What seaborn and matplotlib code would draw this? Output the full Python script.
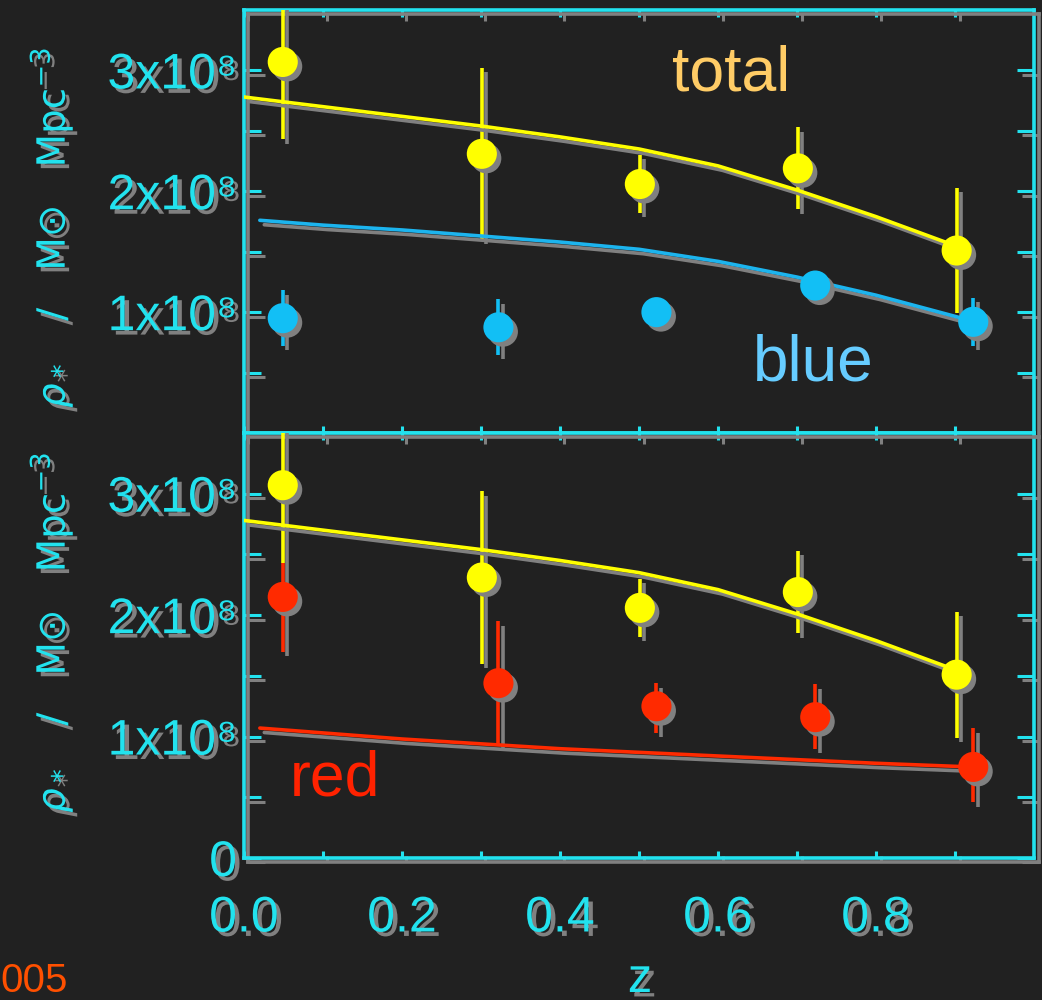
import matplotlib
matplotlib.use("Agg")
import matplotlib.pyplot as plt
import matplotlib.patheffects as pe
from matplotlib.ticker import FixedLocator, FuncFormatter
from matplotlib import font_manager
import pandas as pd
import seaborn as sns

# ---------------- data (stellar mass density, Msun Mpc^-3) ----------------
total_z = [0.049, 0.301, 0.501, 0.701, 0.902]
total_rho = [3.07e8, 2.31e8, 2.06e8, 2.19e8, 1.51e8]
total_err = [0.64e8, 0.71e8, 0.24e8, 0.34e8, 0.52e8]

blue_z = [0.049, 0.322, 0.522, 0.723, 0.923]
blue_rho = [0.95e8, 0.875e8, 1.00e8, 1.22e8, 0.92e8]
blue_err = [0.23e8, 0.23e8, 0.0, 0.0, 0.20e8]

red_z = [0.049, 0.322, 0.522, 0.723, 0.923]
red_rho = [2.15e8, 1.44e8, 1.25e8, 1.16e8, 0.75e8]
red_err_lo = [0.45e8, 0.50e8, 0.22e8, 0.26e8, 0.29e8]
red_err_hi = [0.28e8, 0.51e8, 0.19e8, 0.27e8, 0.32e8]

model_total_z = [0.0, 0.1, 0.2, 0.3, 0.4, 0.5, 0.6, 0.7, 0.8, 0.9]
model_total = [2.78e8, 2.70e8, 2.62e8, 2.54e8, 2.45e8, 2.35e8, 2.21e8, 2.01e8, 1.79e8, 1.55e8]

model_comp_z = [0.02, 0.1, 0.2, 0.3, 0.4, 0.5, 0.6, 0.7, 0.8, 0.92]
model_blue = [1.76e8, 1.72e8, 1.68e8, 1.63e8, 1.58e8, 1.52e8, 1.42e8, 1.29e8, 1.14e8, 0.93e8]
model_red = [1.07e8, 1.03e8, 0.98e8, 0.94e8, 0.90e8, 0.87e8, 0.84e8, 0.81e8, 0.78e8, 0.75e8]

x_major = [0.0, 0.2, 0.4, 0.6, 0.8]
x_minor = [0.1, 0.3, 0.5, 0.7, 0.9]
y_major_top = [1e8, 2e8, 3e8]
y_major_bottom = [0, 1e8, 2e8, 3e8]
y_minor = [0.5e8, 1.5e8, 2.5e8]

# ---------------- style ----------------
BG = "#212121"
CYAN = "#22e2ee"
YELLOW = "#ffff00"
BLUE = "#12bff5"
BLUELINE = "#1cb4ee"
RED = "#ff2a00"
SHADOW = "#808080"

sns.set_style("dark", {"axes.facecolor": BG, "figure.facecolor": BG})
names = {f.name for f in font_manager.fontManager.ttflist}
NARROW = "Liberation Sans Narrow" if "Liberation Sans Narrow" in names else "Liberation Sans"
plt.rcParams["font.family"] = ["Liberation Sans", "DejaVu Sans"]
plt.rcParams["mathtext.fontset"] = "dejavusans"

OFF = (3.2, -3.2)
line_pe = [pe.SimpleLineShadow(offset=OFF, shadow_color=SHADOW, alpha=1.0), pe.Normal()]
fill_pe = [pe.SimplePatchShadow(offset=OFF, shadow_rgbFace=SHADOW, alpha=1.0), pe.Normal()]

fig = plt.figure(figsize=(10.42, 10.0), dpi=100)
fig.patch.set_facecolor(BG)
ax_top = fig.add_axes([0.2342, 0.567, 0.7582, 0.423])
ax_bot = fig.add_axes([0.2342, 0.142, 0.7582, 0.425], sharex=ax_top)


def ylabfmt(v, pos):
    if abs(v) < 1:
        return "0"
    return "%dx10\u2078" % round(v / 1e8)


def style_axes(ax, ymajor, show_xlabels):
    ax.set_facecolor(BG)
    ax.set_xlim(0.0, 1.0)
    ax.set_ylim(0, 3.5e8)
    ax.grid(False)
    ax.xaxis.set_major_locator(FixedLocator(x_major))
    ax.xaxis.set_minor_locator(FixedLocator(x_minor))
    ax.yaxis.set_major_locator(FixedLocator(ymajor))
    ax.yaxis.set_minor_locator(FixedLocator(y_minor))
    ax.yaxis.set_major_formatter(FuncFormatter(ylabfmt))
    ax.xaxis.set_major_formatter(FuncFormatter(lambda v, p: "%.1f" % v))
    ax.tick_params(axis="x", which="both", direction="in", length=5, width=2.2,
                   color=CYAN, top=True, bottom=True, labelsize=36,
                   labelcolor=CYAN, pad=27, labelbottom=show_xlabels)
    ax.tick_params(axis="y", which="both", direction="in", length=12, width=2.2,
                   color=CYAN, left=True, right=True, labelsize=36,
                   labelcolor=CYAN, pad=5)
    for s in ax.spines.values():
        s.set_color(CYAN)
        s.set_linewidth(2.6)
        s.set_visible(True)
        s.set_path_effects(line_pe)
    for tl in (ax.xaxis.get_ticklines() + ax.xaxis.get_ticklines(minor=True)
               + ax.yaxis.get_ticklines() + ax.yaxis.get_ticklines(minor=True)):
        tl.set_path_effects(line_pe)
    for t in ax.xaxis.get_major_ticks() + ax.yaxis.get_major_ticks():
        t.label1.set_path_effects(fill_pe)
    ax.set_xlabel("")


def draw_points(ax, z, rho, lo, hi, color):
    eb = ax.errorbar(z, rho, yerr=[lo, hi], fmt="none", ecolor=color,
                     elinewidth=2.6, capsize=0, zorder=3)
    for c in eb.lines[2]:
        c.set_path_effects(line_pe)
    df = pd.DataFrame({"z": z, "rho": rho})
    sns.scatterplot(data=df, x="z", y="rho", ax=ax, color=color, s=470,
                    edgecolor="none", linewidth=0, zorder=5,
                    path_effects=fill_pe, legend=False)


def draw_model(ax, z, rho, color):
    df = pd.DataFrame({"z": z, "rho": rho})
    sns.lineplot(data=df, x="z", y="rho", ax=ax, color=color, lw=2.6,
                 zorder=4, path_effects=line_pe, sort=True)


# ---- top panel: total and blue ----
draw_model(ax_top, model_total_z, model_total, YELLOW)
draw_model(ax_top, model_comp_z, model_blue, BLUELINE)
draw_points(ax_top, blue_z, blue_rho, blue_err, blue_err, BLUE)
draw_points(ax_top, total_z, total_rho, total_err, total_err, YELLOW)

# ---- bottom panel: total and red ----
draw_model(ax_bot, model_total_z, model_total, YELLOW)
draw_model(ax_bot, model_comp_z, model_red, RED)
draw_points(ax_bot, red_z, red_rho, red_err_lo, red_err_hi, RED)
draw_points(ax_bot, total_z, total_rho, total_err, total_err, YELLOW)

style_axes(ax_top, y_major_top, False)
style_axes(ax_bot, y_major_bottom, True)
ax_top.set_ylabel("")
ax_bot.set_ylabel("")

# y-axis titles
ylab = r"$\rho_*$   /   M$\odot$   Mpc$^{-3}$"
for ax, yc in ((ax_top, 0.485), (ax_bot, 0.53)):
    ax.set_ylabel(ylab, color=CYAN, fontsize=28, family=["DejaVu Sans"])
    ax.yaxis.set_label_coords(-0.214, yc)
    ax.yaxis.label.set_path_effects(fill_pe)

# annotations
ax_top.text(0.542, 2.83e8, "total", color="#ffcc66", fontsize=45, ha="left", va="baseline")
ax_top.text(0.644, 0.436e8, "blue", color="#66ccff", fontsize=46, ha="left", va="baseline")
ax_bot.text(0.058, 0.516e8, "red", color="#ff2200", fontsize=45, ha="left", va="baseline")

zl = fig.text(640 / 1042, 0.008, "z", color=CYAN, fontsize=35, ha="center", va="baseline")
zl.set_path_effects(fill_pe)
fig.text(0.0, 0.008, "005", color="#ff5000", fontsize=29, ha="left",
         va="baseline", family=[NARROW, "DejaVu Sans"])

fig.canvas.draw()
for ax in (ax_top, ax_bot):
    for t in ax.xaxis.get_major_ticks() + ax.yaxis.get_major_ticks():
        t.label1.set_path_effects(fill_pe)

fig.savefig("out.png", dpi=100, facecolor=BG)
